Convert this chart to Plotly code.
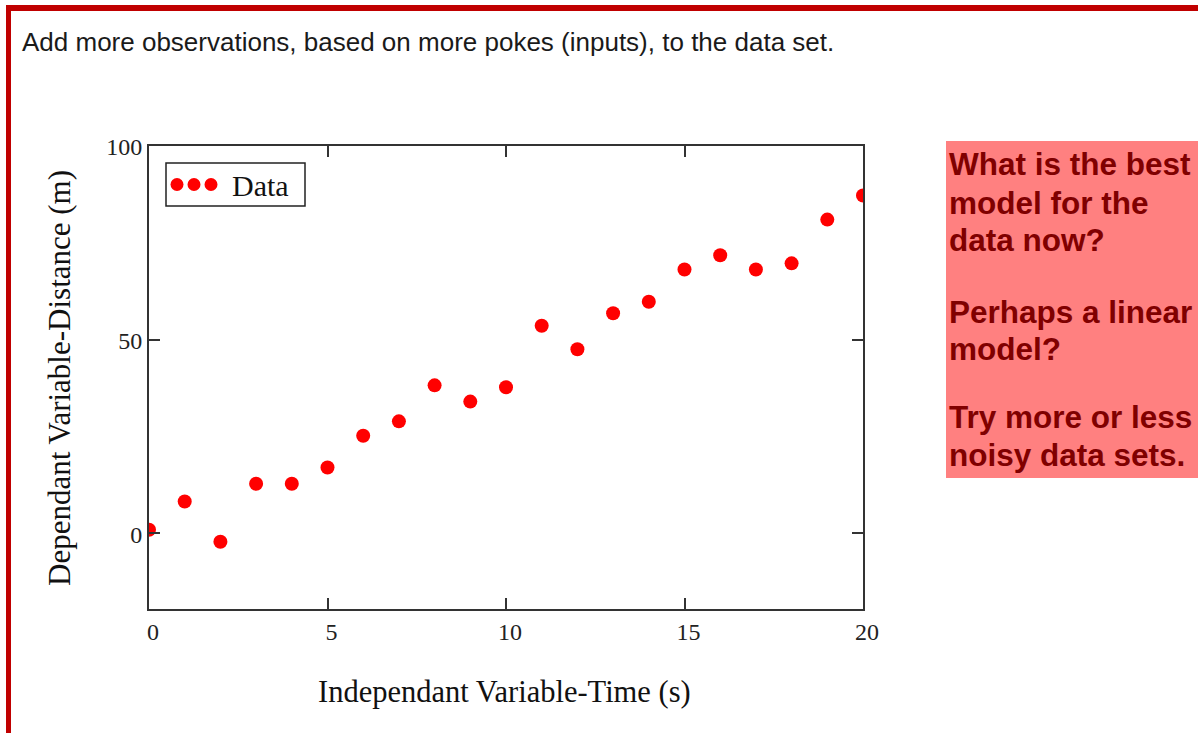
import plotly.graph_objects as go

# Observations: time (s) and distance (m)
time_s = [0, 1, 2, 3, 4, 5, 6, 7, 8, 9, 10, 11, 12, 13, 14, 15, 16, 17, 18, 19, 20]
distance_m = [0.9, 8.2, -2.2, 12.8, 12.8, 17.0, 25.2, 28.9, 38.2, 34.0, 37.7,
              53.6, 47.5, 56.8, 59.8, 68.1, 71.8, 68.1, 69.7, 81.0, 87.2]

x_ticks = [0, 5, 10, 15, 20]
y_ticks = [0, 50, 100]

header_text = "Add more observations, based on more pokes (inputs), to the data set."
x_title = "Independant Variable-Time (s)"
y_title = "Dependant Variable-Distance (m)"
legend_label = "Data"
note_lines = ["What is the best", "model for the", "data now?",
              "Perhaps a linear", "model?",
              "Try more or less", "noisy data sets."]

# Page geometry (pixels)
FIG_W, FIG_H = 1198, 733
L, R, T, B = 149, 863, 146, 609
PW, PH = R - L, B - T


def px(x):
    return (x - L) / PW


def py(y):
    return (B - y) / PH


SERIF = "Liberation Serif, Times New Roman, serif"
SANS = "Liberation Sans, Arial, sans-serif"
AXIS_COLOR = "#333333"

fig = go.Figure()
fig.add_trace(go.Scatter(
    x=time_s, y=distance_m, mode="markers", name=legend_label,
    marker=dict(color="#ff0000", size=14, line=dict(width=0)),
    showlegend=False, cliponaxis=True,
))

axis_common = dict(
    showline=True, linecolor=AXIS_COLOR, linewidth=2, mirror="ticks",
    ticks="inside", ticklen=11, tickwidth=2, tickcolor=AXIS_COLOR,
    showgrid=False, zeroline=False,
    tickfont=dict(family=SERIF, size=24, color="#222222"),
)

fig.update_xaxes(range=[0, 20], tickvals=x_ticks, ticktext=[str(v) for v in x_ticks],
                 ticklabelstandoff=0, ticklabelshift=4, **axis_common)
fig.update_yaxes(range=[-19.55, 100], tickvals=y_ticks, ticktext=[str(v) for v in y_ticks],
                 ticklabelstandoff=0, ticklabelshift=1, **axis_common)

shapes = [
    # red page frame (top and left edges)
    dict(type="rect", xref="paper", yref="paper", x0=px(6), x1=px(1198), y0=py(11), y1=py(5),
         fillcolor="#c00000", line=dict(width=0), layer="above"),
    dict(type="rect", xref="paper", yref="paper", x0=px(6), x1=px(11), y0=py(733), y1=py(5),
         fillcolor="#c00000", line=dict(width=0), layer="above"),
    # note box
    dict(type="rect", xref="paper", yref="paper", x0=px(946), x1=px(1198), y0=py(478), y1=py(141),
         fillcolor="#ff8080", line=dict(width=0), layer="below"),
    # legend box
    dict(type="rect", xref="paper", yref="paper", x0=px(166), x1=px(305), y0=py(206), y1=py(163),
         fillcolor="white", line=dict(color="#222222", width=1.5), layer="above"),
]
# legend marker dots
for cx in (177, 194, 211):
    shapes.append(dict(type="circle", xref="paper", yref="paper", xsizemode="pixel", ysizemode="pixel",
                       xanchor=px(cx), yanchor=py(184.5), x0=-6.5, x1=6.5, y0=-6.5, y1=6.5,
                       fillcolor="#ff0000", line=dict(width=0), layer="above"))

annotations = [
    dict(text=header_text, xref="paper", yref="paper", x=px(20), y=py(42),
         xanchor="left", yanchor="middle", showarrow=False,
         font=dict(family=SANS, size=26, color="#1a1a1a")),
    dict(text=x_title, xref="paper", yref="paper", x=px(504), y=py(692),
         xanchor="center", yanchor="middle", showarrow=False,
         font=dict(family=SERIF, size=30.5, color="#111111")),
    dict(text=y_title, xref="paper", yref="paper", x=px(59), y=py(378), textangle=-90,
         xanchor="center", yanchor="middle", showarrow=False,
         font=dict(family=SERIF, size=31, color="#111111")),
    dict(text=legend_label, xref="paper", yref="paper", x=px(230), y=py(185),
         xanchor="left", yanchor="middle", showarrow=False,
         font=dict(family=SERIF, size=30, color="#111111")),
]

note_y = [164, 203, 240, 312, 349, 417, 455]
for line, yy in zip(note_lines, note_y):
    annotations.append(dict(text="<b>" + line + "</b>", xref="paper", yref="paper",
                            x=px(947), y=py(yy), xanchor="left", yanchor="middle",
                            showarrow=False,
                            font=dict(family=SANS, size=31.5, color="#800000")))

fig.update_layout(
    width=FIG_W, height=FIG_H,
    margin=dict(l=L, r=FIG_W - R, t=T, b=FIG_H - B, autoexpand=False),
    paper_bgcolor="white", plot_bgcolor="white",
    shapes=shapes, annotations=annotations, showlegend=False,
)

fig.write_html("out.html")
